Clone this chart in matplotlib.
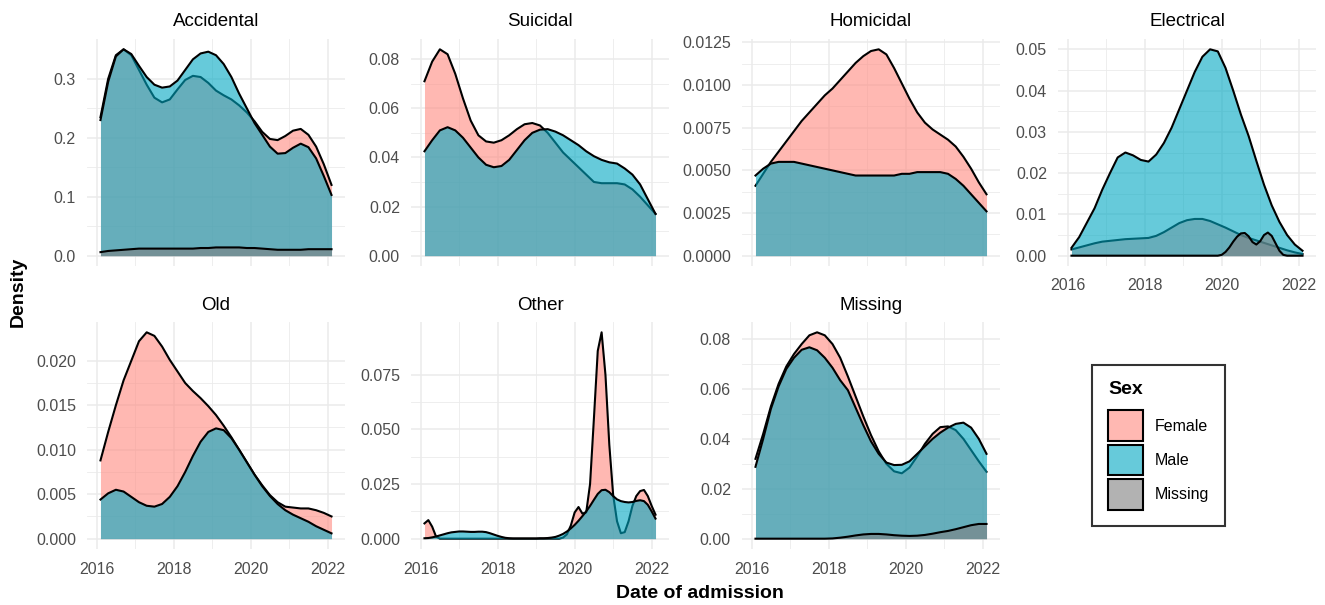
import numpy as np
import matplotlib
matplotlib.use("Agg")
import matplotlib.pyplot as plt
from matplotlib.patches import Patch
from matplotlib.colors import to_rgba

plt.rcParams['font.family'] = ['Liberation Sans', 'DejaVu Sans']

# --- data (density by date of admission) ---
years = np.round(np.arange(2016.1, 2022.11, 0.2), 1)        # 31 sample points
years_fine = np.round(np.arange(2016.1, 2022.11, 0.1), 1)   # 61 sample points

panels = ['Accidental', 'Suicidal', 'Homicidal', 'Electrical', 'Old', 'Other', 'Missing']
sexes = ['Female', 'Male', 'Missing']
sex_colors = ['#FF8A80', '#00A8C2', '#7F7F7F']

acc_female = [0.235, 0.300, 0.340, 0.350, 0.340, 0.315, 0.290, 0.268, 0.260, 0.265,
              0.282, 0.298, 0.305, 0.303, 0.293, 0.280, 0.272, 0.265, 0.255, 0.243,
              0.228, 0.210, 0.198, 0.196, 0.203, 0.212, 0.215, 0.205, 0.185, 0.155, 0.120]
acc_male = [0.230, 0.295, 0.338, 0.350, 0.342, 0.322, 0.303, 0.290, 0.285, 0.287,
            0.297, 0.315, 0.333, 0.343, 0.346, 0.340, 0.325, 0.303, 0.275, 0.250,
            0.225, 0.205, 0.185, 0.173, 0.174, 0.183, 0.190, 0.184, 0.165, 0.135, 0.103]
acc_missing = [0.006, 0.008, 0.009, 0.010, 0.011, 0.012, 0.012, 0.012, 0.012, 0.012,
               0.012, 0.012, 0.012, 0.013, 0.013, 0.014, 0.014, 0.014, 0.014, 0.013,
               0.013, 0.012, 0.011, 0.010, 0.010, 0.010, 0.010, 0.011, 0.011, 0.011, 0.011]

sui_female = [0.071, 0.079, 0.084, 0.082, 0.074, 0.064, 0.055, 0.049, 0.0465, 0.046,
              0.047, 0.049, 0.0515, 0.0535, 0.054, 0.053, 0.050, 0.046, 0.042, 0.039,
              0.036, 0.033, 0.030, 0.0295, 0.0295, 0.0295, 0.029, 0.027, 0.024, 0.0205, 0.017]
sui_male = [0.0425, 0.047, 0.051, 0.0523, 0.051, 0.048, 0.044, 0.040, 0.037, 0.036,
            0.0365, 0.039, 0.043, 0.047, 0.050, 0.0513, 0.0515, 0.0505, 0.049, 0.047,
            0.045, 0.0425, 0.0405, 0.039, 0.038, 0.0375, 0.0355, 0.033, 0.029, 0.023, 0.017]

hom_female = [0.0041, 0.0048, 0.0055, 0.0061, 0.0067, 0.0073, 0.0079, 0.0084, 0.0089, 0.0094,
              0.0098, 0.0103, 0.0108, 0.0113, 0.0117, 0.0120, 0.0121, 0.0118, 0.0110, 0.0101,
              0.0092, 0.0084, 0.0078, 0.0074, 0.0071, 0.0068, 0.0064, 0.0058, 0.0051, 0.0043, 0.0036]
hom_male = [0.0047, 0.0051, 0.0054, 0.0055, 0.0055, 0.0055, 0.0054, 0.0053, 0.0052, 0.0051,
            0.0050, 0.0049, 0.0048, 0.0047, 0.0047, 0.0047, 0.0047, 0.0047, 0.0047, 0.0048,
            0.0048, 0.0049, 0.0049, 0.0049, 0.0049, 0.0048, 0.0045, 0.0041, 0.0036, 0.0031, 0.0026]

ele_female = [0.0015, 0.0020, 0.0025, 0.0030, 0.0034, 0.0036, 0.0038, 0.0040, 0.0041, 0.0042,
              0.0043, 0.0048, 0.0057, 0.0068, 0.0079, 0.0086, 0.0089, 0.0089, 0.0084, 0.0076,
              0.0068, 0.0059, 0.0050, 0.0043, 0.0037, 0.0031, 0.0025, 0.0019, 0.0013, 0.0008, 0.0004]
ele_male = [0.0019, 0.0045, 0.0080, 0.0115, 0.0160, 0.0200, 0.0238, 0.0250, 0.0243, 0.0232,
            0.0228, 0.0245, 0.0273, 0.0310, 0.0355, 0.0400, 0.0445, 0.0482, 0.0500, 0.0495,
            0.0455, 0.0400, 0.0342, 0.0290, 0.0230, 0.0172, 0.0122, 0.0082, 0.0050, 0.0027, 0.0012]
ele_missing_x = [2016.1, 2019.9, 2020.0, 2020.1, 2020.2, 2020.3, 2020.4, 2020.5, 2020.6, 2020.7,
                 2020.8, 2020.9, 2021.0, 2021.1, 2021.2, 2021.3, 2021.4, 2021.5, 2021.6, 2021.7, 2022.1]
ele_missing = [0, 0, 0.0002, 0.0009, 0.0020, 0.0034, 0.0046, 0.0054, 0.0055, 0.0047,
               0.0033, 0.0027, 0.0035, 0.0050, 0.0056, 0.0048, 0.0030, 0.0012, 0.0002, 0, 0]

old_female = [0.0088, 0.0120, 0.0150, 0.0178, 0.0200, 0.0222, 0.0232, 0.0228, 0.0216, 0.0201,
              0.0188, 0.0175, 0.0166, 0.0158, 0.0149, 0.0139, 0.0127, 0.0114, 0.0100, 0.0086,
              0.0072, 0.0060, 0.0049, 0.0041, 0.0036, 0.0035, 0.0034, 0.0034, 0.0032, 0.0029, 0.0025]
old_male = [0.0044, 0.0051, 0.0055, 0.0053, 0.0047, 0.0041, 0.0037, 0.0036, 0.0039, 0.0047,
            0.0059, 0.0075, 0.0093, 0.0109, 0.0120, 0.0124, 0.0122, 0.0113, 0.0100, 0.0086,
            0.0072, 0.0059, 0.0048, 0.0039, 0.0032, 0.0027, 0.0023, 0.0019, 0.0014, 0.0010, 0.0006]

oth_female = [0.0070, 0.0085, 0.0055, 0.0010] + [0.0] * 32 + \
             [0.0005, 0.0020, 0.0060, 0.0120, 0.0145, 0.0115, 0.0120, 0.0250, 0.0550, 0.0860,
              0.0945, 0.0750, 0.0430, 0.0200, 0.0080, 0.0025, 0.0030, 0.0080, 0.0150, 0.0195,
              0.0218, 0.0223, 0.0195, 0.0150, 0.0110]
oth_male = [0.0002, 0.0003, 0.0006, 0.0010, 0.0015, 0.0020, 0.0025, 0.0029, 0.0031,
            0.0033, 0.0033, 0.0032, 0.0031, 0.0031, 0.0032, 0.0032, 0.0030, 0.0025, 0.0019,
            0.0013, 0.0008, 0.0004, 0.0002, 0.0001, 0.0001, 0.0001, 0.0001, 0.0001, 0.0001,
            0.0001, 0.0002, 0.0002, 0.0003, 0.0005, 0.0008, 0.0014, 0.0022, 0.0033, 0.0047,
            0.0063, 0.0082, 0.0103, 0.0125, 0.0150, 0.0178, 0.0205, 0.0222, 0.0224, 0.0213,
            0.0195, 0.0180, 0.0172, 0.0168, 0.0166, 0.0168, 0.0173, 0.0176, 0.0172, 0.0155,
            0.0125, 0.0092]

mis_female = [0.032, 0.042, 0.053, 0.062, 0.069, 0.074, 0.078, 0.0815, 0.0827, 0.0815,
              0.078, 0.0725, 0.065, 0.057, 0.049, 0.0415, 0.035, 0.030, 0.027, 0.0262,
              0.0285, 0.033, 0.038, 0.042, 0.0447, 0.045, 0.0435, 0.040, 0.0355, 0.031, 0.0268]
mis_male = [0.0288, 0.040, 0.052, 0.061, 0.068, 0.0725, 0.0757, 0.0767, 0.0755, 0.0725,
            0.0685, 0.0635, 0.0595, 0.0525, 0.0455, 0.039, 0.034, 0.0305, 0.0295, 0.0296,
            0.031, 0.034, 0.037, 0.040, 0.0425, 0.0445, 0.046, 0.0465, 0.0445, 0.040, 0.034]
mis_missing = [0, 0, 0, 0, 0, 0, 0, 0, 0, 0,
               0.0001, 0.0004, 0.0008, 0.0013, 0.0017, 0.0019, 0.0019, 0.0017, 0.0014, 0.0012,
               0.0011, 0.0012, 0.0015, 0.0020, 0.0026, 0.0031, 0.0038, 0.0046, 0.0054, 0.0059, 0.0059]

x_ticks = [2016, 2018, 2020, 2022]
y_ticks = {
    'Accidental': [0.0, 0.1, 0.2, 0.3],
    'Suicidal': [0.0, 0.02, 0.04, 0.06, 0.08],
    'Homicidal': [0.0, 0.0025, 0.005, 0.0075, 0.01, 0.0125],
    'Electrical': [0.0, 0.01, 0.02, 0.03, 0.04, 0.05],
    'Old': [0.0, 0.005, 0.01, 0.015, 0.02],
    'Other': [0.0, 0.025, 0.05, 0.075],
    'Missing': [0.0, 0.02, 0.04, 0.06, 0.08],
}
y_decimals = {'Accidental': 1, 'Suicidal': 2, 'Homicidal': 4, 'Electrical': 2,
              'Old': 3, 'Other': 3, 'Missing': 2}

curves = {
    'Accidental': [(years, acc_female), (years, acc_male), (years, acc_missing)],
    'Suicidal': [(years, sui_female), (years, sui_male), None],
    'Homicidal': [(years, hom_female), (years, hom_male), None],
    'Electrical': [(years, ele_female), (years, ele_male), (ele_missing_x, ele_missing)],
    'Old': [(years, old_female), (years, old_male), None],
    'Other': [(years_fine, oth_female), (years_fine, oth_male), None],
    'Missing': [(years, mis_female), (years, mis_male), (years, mis_missing)],
}

# --- layout (pixel boxes of the facet panels) ---
W, H = 1325, 605
col_left = [87, 411, 742, 1058]
row_top = [39, 322]
pw, ph = 258, 227

fig = plt.figure(figsize=(W / 100, H / 100), dpi=100)


def px_rect(left, top, w, h):
    return [left / W, 1 - (top + h) / H, w / W, h / H]


for i, name in enumerate(panels):
    r, c = divmod(i, 4)
    ax = fig.add_axes(px_rect(col_left[c], row_top[r], pw, ph))
    z = 2
    for (data, col) in zip(curves[name], sex_colors):
        if data is None:
            continue
        x, y = data
        ax.fill_between(x, 0, y, color=col, alpha=0.6, lw=0, zorder=z)
        ax.plot(x, y, color='black', lw=1.5, zorder=z + 1)
        z += 2

    ymax = max(max(d[1]) for d in curves[name] if d is not None)
    pad = 0.05 * ymax
    ax.set_ylim(-pad, ymax + pad)
    ax.set_xlim(2015.75, 2022.45)

    yt = y_ticks[name]
    ax.set_yticks(yt)
    ax.set_yticklabels([f"{v:.{y_decimals[name]}f}" for v in yt])
    ax.set_yticks([(a + b) / 2 for a, b in zip(yt[:-1], yt[1:])], minor=True)
    ax.set_xticks(x_ticks)
    ax.set_xticks([2017, 2019, 2021], minor=True)
    if r == 1 or name == 'Electrical':
        ax.set_xticklabels([str(t) for t in x_ticks])
    else:
        ax.set_xticklabels([])

    ax.grid(which='major', color='#EBEBEB', lw=1.1)
    ax.grid(which='minor', color='#EBEBEB', lw=0.6)
    ax.set_axisbelow(True)
    ax.tick_params(which='both', length=0, labelsize=11.5, labelcolor='#4D4D4D')
    ax.tick_params(axis='y', pad=8)
    ax.tick_params(axis='x', pad=9)
    for s in ax.spines.values():
        s.set_visible(False)
    ax.set_title(name, fontsize=13.5, pad=9)

fig.text(18 / W, 1 - 292 / H, 'Density', rotation=90, ha='center', va='center',
         fontsize=14, fontweight='bold')
fig.text(700 / W, 1 - 593 / H, 'Date of admission', ha='center', va='center',
         fontsize=14, fontweight='bold')

handles = [Patch(facecolor=to_rgba(c, 0.6), edgecolor='black', lw=1.5) for c in sex_colors]
leg = fig.legend(handles, sexes, title='Sex', loc='upper left',
                 bbox_to_anchor=(1092 / W, 1 - 365 / H), frameon=True, fancybox=False,
                 edgecolor='black', fontsize=11.5, title_fontsize=14,
                 handlelength=2.2, handleheight=2.6, labelspacing=0.2,
                 handletextpad=0.7, borderpad=1.0, alignment='left', borderaxespad=0)
leg.get_title().set_fontweight('bold')
leg.get_frame().set_linewidth(1.5)
leg._legend_box.sep = 9  # a bit more room between the title and the keys

fig.savefig('out.png', dpi=100)
